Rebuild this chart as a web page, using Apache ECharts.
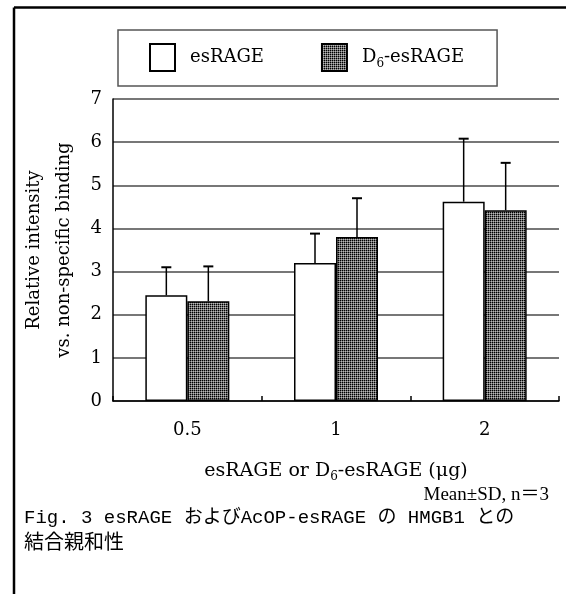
<!DOCTYPE html>
<html>
<head>
<meta charset="utf-8">
<script src="https://cdn.jsdelivr.net/npm/echarts@6/dist/echarts.min.js"></script>
<style>
html, body { margin: 0; padding: 0; background: #fff; }
#main { width: 566px; height: 594px; }
</style>
</head>
<body>
<div id="main"></div>
<script>
var categories = ['0.5', '1', '2'];
var yTicks = [0, 1, 2, 3, 4, 5, 6, 7];
var esMean = [2.45, 3.2, 4.62];
var esSD = [0.65, 0.68, 1.46];
var d6Mean = [2.31, 3.8, 4.42];
var d6SD = [0.81, 0.9, 1.1];

var serif = "'DejaVu Serif', 'Liberation Serif', serif";
var barW = 42;

// dotted fill like the printed figure
var pat = document.createElement('canvas');
pat.width = 2; pat.height = 2;
var pc = pat.getContext('2d');
pc.fillStyle = '#6f6f6f'; pc.fillRect(0, 0, 2, 2);
pc.fillStyle = '#000'; pc.fillRect(0, 0, 1, 1);
pc.fillStyle = '#b8b8b8'; pc.fillRect(1, 1, 1, 1);
var fillD6 = { image: pat, repeat: 'repeat' };

function errData(means, sds) {
    var out = [];
    for (var i = 0; i < means.length; i++) {
        out.push([i, means[i], sds[i]]);
    }
    return out;
}

function errRender(offset) {
    return function(params, api) {
        var i = api.value(0), m = api.value(1), sd = api.value(2);
        var b = api.coord([i, m]);
        var t = api.coord([i, m + sd]);
        var x = b[0] + offset;
        return {
            type: 'group',
            children: [
                { type: 'line', shape: { x1: x, y1: b[1], x2: x, y2: t[1] }, style: { stroke: '#000', lineWidth: 1.5 } },
                { type: 'line', shape: { x1: x - 5, y1: t[1], x2: x + 5, y2: t[1] }, style: { stroke: '#000', lineWidth: 2 } }
            ]
        };
    };
}

var rich = {
    f: { fontFamily: serif, fontSize: 18, color: '#000', padding: [0, 0, 0, 10] },
    n: { fontFamily: serif, fontSize: 18, color: '#000' },
    x: { fontFamily: serif, fontSize: 19, color: '#000' },
    s: { fontFamily: serif, fontSize: 12, color: '#000', padding: [12, 0, 0, 0] }
};

var chart = echarts.init(document.getElementById('main'));
var option = {
    animation: false,
    backgroundColor: '#fff',
    grid: { left: 113, right: 7, top: 99, bottom: 193 },
    legend: {
        left: 118,
        top: 30,
        data: ['esRAGE', 'D6-esRAGE'],
        icon: 'rect',
        itemWidth: 25,
        itemHeight: 27,
        itemGap: 57,
        padding: [13, 33, 14, 31],
        borderColor: '#555',
        borderWidth: 1.5,
        formatter: function(name) {
            if (name === 'D6-esRAGE') return '{f|D}{s|6}{n|-esRAGE}';
            return '{f|' + name + '}';
        },
        textStyle: { rich: rich }
    },
    xAxis: {
        type: 'category',
        data: categories,
        axisLine: { lineStyle: { color: '#000', width: 1.5 } },
        axisTick: { show: true, inside: true, length: 5, lineStyle: { color: '#000', width: 1.5 } },
        axisLabel: { fontFamily: serif, fontSize: 18, color: '#000', margin: 20 },
        name: '{x|esRAGE or D}{s|6}{x|-esRAGE (μg)}',
        nameLocation: 'middle',
        nameGap: 58,
        nameTextStyle: { rich: rich }
    },
    yAxis: {
        type: 'value',
        min: 0,
        max: 7,
        interval: 1,
        axisLine: { show: true, lineStyle: { color: '#000', width: 1.5 } },
        axisTick: { show: false },
        axisLabel: { fontFamily: serif, fontSize: 18, color: '#000', margin: 11,
            formatter: function(v) { return yTicks.indexOf(v) >= 0 ? String(v) : ''; } },
        splitLine: { show: true, lineStyle: { color: '#4a4a4a', width: 1.5 } },
        name: 'Relative intensity\nvs. non-specific binding',
        nameLocation: 'middle',
        nameGap: 33,
        nameTextStyle: { fontFamily: serif, fontSize: 18, color: '#000', lineHeight: 30 }
    },
    series: [
        {
            name: 'esRAGE',
            type: 'bar',
            data: esMean,
            barWidth: barW,
            barGap: '0%',
            itemStyle: { color: '#fff', borderColor: '#000', borderWidth: 1.5 }
        },
        {
            name: 'D6-esRAGE',
            type: 'bar',
            data: d6Mean,
            barWidth: barW,
            barGap: '0%',
            itemStyle: { color: fillD6, borderColor: '#000', borderWidth: 1.5 }
        },
        {
            name: 'esRAGE SD',
            type: 'custom',
            renderItem: errRender(-barW / 2),
            data: errData(esMean, esSD),
            z: 5
        },
        {
            name: 'D6-esRAGE SD',
            type: 'custom',
            renderItem: errRender(barW / 2),
            data: errData(d6Mean, d6SD),
            z: 5
        }
    ],
    graphic: [
        { type: 'line', shape: { x1: 14, y1: 7.5, x2: 566, y2: 7.5 }, style: { stroke: '#000', lineWidth: 2.5 } },
        { type: 'line', shape: { x1: 14, y1: 7.5, x2: 14, y2: 594 }, style: { stroke: '#000', lineWidth: 2.5 } },
        { type: 'text', x: 549, y: 495,
          style: { text: 'Mean±SD, n＝3', fill: '#000', font: "19px 'Liberation Serif', 'Noto Sans CJK JP'", textAlign: 'right', textVerticalAlign: 'middle' } },
        { type: 'text', x: 24, y: 518,
          style: { text: 'Fig. 3 esRAGE およびAcOP-esRAGE の HMGB1 との', fill: '#000', font: "19px 'Liberation Mono', 'Noto Sans CJK JP'", textVerticalAlign: 'middle' } },
        { type: 'text', x: 24, y: 544,
          style: { text: '結合親和性', fill: '#000', font: "20px 'Liberation Mono', 'Noto Sans CJK JP'", textVerticalAlign: 'middle' } }
    ]
};
chart.setOption(option);
</script>
</body>
</html>
